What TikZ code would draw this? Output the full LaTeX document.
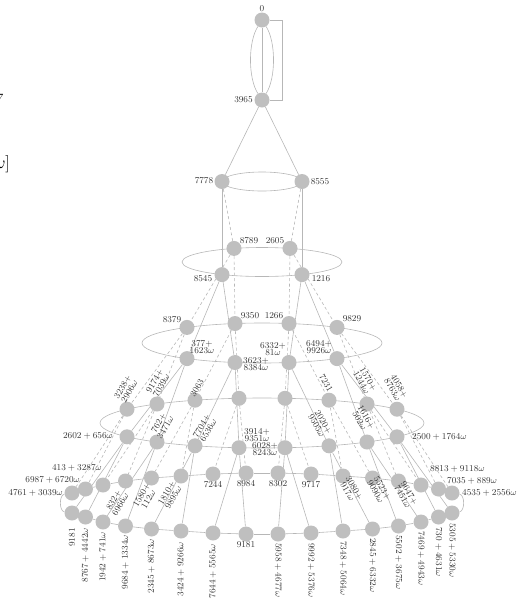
\documentclass[tikz,border=0pt]{standalone}
\usetikzlibrary{backgrounds}
\definecolor{vgray}{RGB}{191,191,191}
\definecolor{egray}{RGB}{183,183,183}
\begin{document}
\begin{tikzpicture}[x=1pt,y=-1pt,
 vtx/.style={circle,fill=vgray,draw=none,inner sep=0pt,minimum size=15pt},
 lb/.style={font=\fontsize{8.6}{7.8}\selectfont,text=black!80,inner sep=0pt,align=center},
 big/.style={font=\fontsize{19}{22}\selectfont,inner sep=0pt},
 edge/.style={draw=egray,line width=0.6pt},
 hid/.style={edge,dash pattern=on 3pt off 2.5pt}]
\useasboundingbox (0,0) rectangle (517,598);

% ---------- vertices ----------
\node[vtx] (n0) at (262,20) {};
\node[vtx] (n1) at (262,100) {};
\node[vtx] (a1) at (222,181.5) {};
\node[vtx] (a2) at (302,181.5) {};
\node[vtx] (r0) at (234,248.4) {};
\node[vtx] (r1) at (290,248.4) {};
\node[vtx] (s0) at (222,274.6) {};
\node[vtx] (s1) at (302,274.6) {};
\foreach \x/\yb/\yf [count=\i from 0] in {187/327.4/358.6,235/323.5/362.5,289/323.5/362.5,337/327.4/358.6}
 {\node[vtx] (p\i) at (\x,\yb) {}; \node[vtx] (q\i) at (\x,\yf) {};}
\foreach \x/\yb/\yf [count=\i from 0] in {127/409.2/436.8,157/404/442,195/400.2/445.8,239/398.3/447.7,285/398.3/447.7,329/400.2/445.8,367/404/442,397/409.2/436.8}
 {\node[vtx] (u\i) at (\x,\yb) {}; \node[vtx] (f\i) at (\x,\yf) {};}
\foreach \x/\yb/\yf [count=\i from 0] in {72/493/513,85.5/489/517,103/485/522,125.5/481/526,151.5/478/529,181/476/531,213/474/533,246/473/534,278/473/534,311/474/533,343/476/531,372.5/478/529,398.5/481/526,421/485/522,438.5/489/517,452/493/513}
 {\node[vtx] (t\i) at (\x,\yb) {}; \node[vtx] (b\i) at (\x,\yf) {};}

% ---------- edges ----------
\begin{scope}[on background layer]
\draw[edge] (n0) -- (n1);
\draw[edge] (n0) .. controls (248,42) and (248,78) .. (n1);
\draw[edge] (n0) .. controls (276,42) and (276,78) .. (n1);
\draw[edge] (n0) -- (282,20) -- (282,100) -- (n1);
\draw[edge] (n1) -- (a1);
\draw[edge] (n1) -- (a2);
\draw[edge] (262,181.5) ellipse [x radius=40, y radius=9.5];
\draw[edge] (a1) -- (s0);
\draw[hid] (a1) -- (r0);
\draw[edge] (a2) -- (s1);
\draw[hid] (a2) -- (r1);
\draw[edge] (262,262) ellipse [x radius=80, y radius=14.5];
\draw[hid] (r0) -- (p0);
\draw[hid] (r0) -- (p1);
\draw[hid] (r1) -- (p2);
\draw[hid] (r1) -- (p3);
\draw[edge] (s0) -- (q0);
\draw[edge] (s0) -- (q1);
\draw[edge] (s1) -- (q2);
\draw[edge] (s1) -- (q3);
\draw[edge] (262,343) ellipse [x radius=120, y radius=20];
\foreach \i in {0,...,3}{
  \pgfmathtruncatemacro\j{2*\i}\pgfmathtruncatemacro\k{2*\i+1}
  \draw[hid] (p\i) -- (u\j);
  \draw[hid] (p\i) -- (u\k);
  \draw[edge] (q\i) -- (f\j);
  \draw[edge] (q\i) -- (f\k);
}
\draw[edge] (262,423) ellipse [x radius=162, y radius=25];
\foreach \i in {0,...,7}{
  \pgfmathtruncatemacro\j{2*\i}\pgfmathtruncatemacro\k{2*\i+1}
  \draw[hid] (u\i) -- (t\j);
  \draw[hid] (u\i) -- (t\k);
  \draw[edge] (f\i) -- (b\j);
  \draw[edge] (f\i) -- (b\k);
}
\foreach \i in {0,...,14}{
  \pgfmathtruncatemacro\j{\i+1}
  \draw[edge] (t\i) -- (t\j);
  \draw[edge] (b\i) -- (b\j);
}
\draw[edge] (t0) .. controls (59,495) and (59,511) .. (b0);
\draw[edge] (t15) .. controls (465,495) and (465,511) .. (b15);
\end{scope}

% ---------- labels ----------
\node[lb] (l0) at (262,9) {$0$};
\node[lb] (l1) at (243.5,100) {$3965$};
\node[lb] (l2) at (204,181) {$7778$};
\node[lb] (l3) at (320,182) {$8555$};
\node[lb] (l4) at (249,241) {$8789$};
\node[lb] (l5) at (275,241) {$2605$};
\node[lb] (l6) at (203,279) {$8545$};
\node[lb] (l7) at (321,279) {$1216$};
\node[lb] (l8) at (172,320) {$8379$};
\node[lb] (l9) at (250,316) {$9350$};
\node[lb] (l10) at (274,316) {$1266$};
\node[lb] (l11) at (352,319) {$9829$};
\node[lb] (l12) at (202,347) {$377+$\\$1623\omega$};
\node[lb] (l13) at (256,364) {$3623+$\\$8384\omega$};
\node[lb] (l14) at (273,349) {$6332+$\\$81\omega$};
\node[lb] (l15) at (319,347) {$6494+$\\$9926\omega$};
% level 4 back
\node[lb,rotate=60] (l16) at (126,389) {$3238+$\\$2906\omega$};
\node[lb,rotate=60] (l17) at (158,383) {$9174+$\\$7039\omega$};
\node[lb,rotate=60] (l18) at (197,388) {$3063$};
\node[lb,rotate=-60] (l19) at (326,383) {$7231$};
\node[lb,rotate=-60] (l20) at (365,381) {$1570+$\\$1244\omega$};
\node[lb,rotate=-60] (l21) at (396,388) {$4058+$\\$8763\omega$};
% level 4 front
\node[lb,anchor=east] (l22) at (113,436) {$2602+656\omega$};
\node[lb,rotate=60] (l23) at (162,425) {$762+$\\$3471\omega$};
\node[lb,rotate=60] (l24) at (205,428) {$7704+$\\$6536\omega$};
\node[lb] (l25) at (257,435) {$3914+$\\$9351\omega$};
\node[lb] (l26) at (265,449) {$6028+$\\$8243\omega$};
\node[lb,rotate=-60] (l27) at (320,424) {$2020+$\\$9505\omega$};
\node[lb,rotate=-60] (l28) at (363,419) {$1616+$\\$502\omega$};
\node[lb,anchor=west] (l29) at (412,437) {$2500+1764\omega$};
% level 5 top
\node[lb,anchor=east] (l30) at (102,468) {$413+3287\omega$};
\node[lb,anchor=east] (l31) at (80,480) {$6987+6720\omega$};
\node[lb,anchor=east] (l32) at (63,493) {$4761+3039\omega$};
\node[lb,rotate=60] (l33) at (117,502) {$832+$\\$6966\omega$};
\node[lb,rotate=60] (l34) at (145,497) {$1580+$\\$112\omega$};
\node[lb,rotate=60] (l35) at (170,495) {$1810+$\\$9895\omega$};
\node[lb] (l36) at (213,485) {$7244$};
\node[lb] (l37) at (246,484) {$8984$};
\node[lb] (l38) at (278,484) {$8302$};
\node[lb] (l39) at (311,485) {$9717$};
\node[lb,rotate=-60] (l40) at (351,490) {$3080+$\\$917\omega$};
\node[lb,rotate=-60] (l41) at (379,490) {$5523+$\\$9090\omega$};
\node[lb,rotate=-60] (l42) at (406,495) {$9647+$\\$7451\omega$};
\node[lb,anchor=west] (l43) at (430,469) {$8813+9118\omega$};
\node[lb,anchor=west] (l44) at (447,481) {$7035+889\omega$};
\node[lb,anchor=west] (l45) at (462,493) {$4535+2556\omega$};
% level 5 bottom
\node[lb,rotate=90,anchor=east] (l46) at (72,528) {$9181$};
\node[lb,rotate=90,anchor=east] (l47) at (85.5,528) {$8767+4442\omega$};
\node[lb,rotate=90,anchor=east] (l48) at (103,532) {$1942+741\omega$};
\node[lb,rotate=90,anchor=east] (l49) at (125.5,535) {$9684+1334\omega$};
\node[lb,rotate=90,anchor=east] (l50) at (151.5,539) {$2345+8673\omega$};
\node[lb,rotate=90,anchor=east] (l51) at (181,542) {$3424+9266\omega$};
\node[lb,rotate=90,anchor=east] (l52) at (213,544) {$7644+5565\omega$};
\node[lb] (l53) at (246,545) {$9181$};
\node[lb,rotate=-90,anchor=west] (l54) at (278,543) {$5958+4677\omega$};
\node[lb,rotate=-90,anchor=west] (l55) at (311,543) {$9992+5376\omega$};
\node[lb,rotate=-90,anchor=west] (l56) at (343,541) {$7348+5064\omega$};
\node[lb,rotate=-90,anchor=west] (l57) at (372.5,538) {$2845+6332\omega$};
\node[lb,rotate=-90,anchor=west] (l58) at (398.5,535) {$5502+3675\omega$};
\node[lb,rotate=-90,anchor=west] (l59) at (421,531) {$7469+4943\omega$};
\node[lb,rotate=-90,anchor=west] (l60) at (438.5,527) {$730+4631\omega$};
\node[lb,rotate=-90,anchor=west] (l61) at (452,523) {$5305+5330\omega$};
% cut-off text at the left edge
\node[big,anchor=base east] (e1) at (3.5,105) {$7$};
\node[big,anchor=base east] (e2) at (10,168) {$\omega]$};
\end{tikzpicture}
\end{document}
